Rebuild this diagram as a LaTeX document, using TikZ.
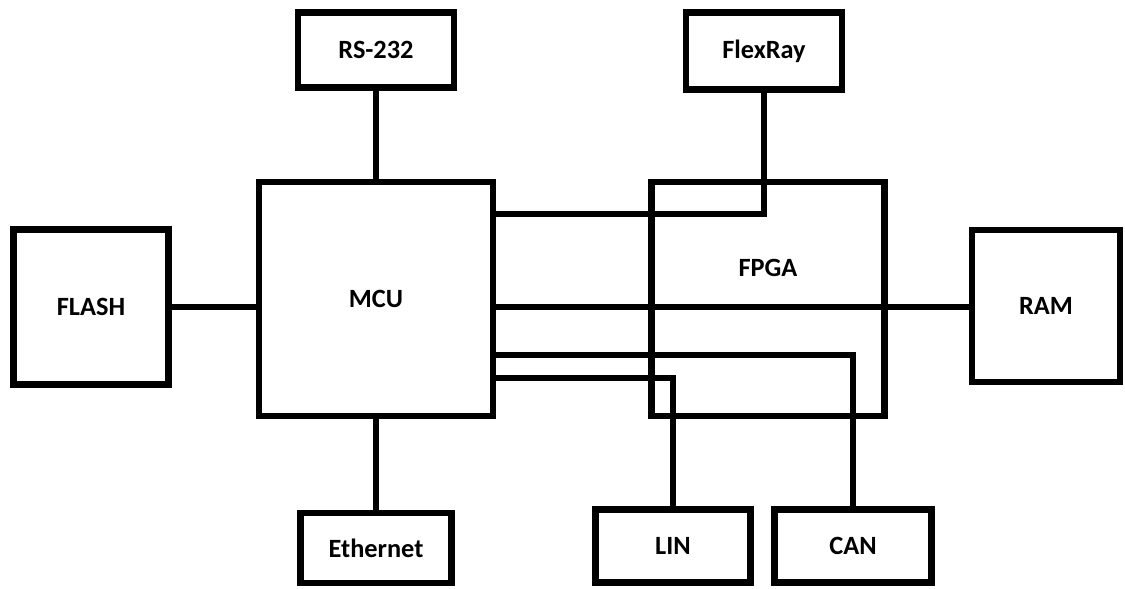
\documentclass[tikz,border=0pt]{standalone}
\usepackage{fontspec}
\setmainfont{Carlito}
\usepackage{tikz}
\usetikzlibrary{positioning}

\begin{document}
\begin{tikzpicture}[
    x=0.02cm, y=-0.02cm,
    box/.style={draw=black, line width=3.6pt, inner sep=0pt, align=center,
      font=\bfseries\fontsize{15}{18}\selectfont},
    port/.style={box, minimum width=3.12cm, minimum height=1.50cm},
    chip/.style={box, minimum width=4.68cm, minimum height=4.68cm},
    mem/.style={box, minimum width=3.10cm, minimum height=3.10cm},
    wire/.style={line width=3.6pt, draw=black}
  ]
    \useasboundingbox (0,0) rectangle (1125,588);

    \node[chip, text depth=-0.12cm] (mcu) at (376,299) {MCU};
    \node[chip, minimum width=4.66cm,
      label={[font=\bfseries\fontsize{15}{18}\selectfont, yshift=0.62cm]center:FPGA}]
      (fpga) at (768,299) {};
    \node[mem] (flash) at (91,307) {FLASH};
    \node[mem, minimum width=2.96cm, minimum height=3.04cm] (ram) at (1046,306) {RAM};

    \node[port] (rs) at (376,50) {RS-232};
    \node[port, minimum height=1.54cm] (flexray) at (764,51) {FlexRay};
    \node[port, minimum width=3.02cm, minimum height=1.40cm] (eth) at (376,548) {Ethernet};
    \node[port, minimum width=3.10cm, minimum height=1.46cm] (lin) at (673,546) {LIN};
    \node[port, minimum width=3.14cm, minimum height=1.46cm] (can) at (853,546) {CAN};

    \draw[wire] (rs) -- (mcu);
    \draw[wire] (mcu) -- (eth);
    \draw[wire] (flash) -- (mcu.west |- flash);
    \draw[wire] (mcu.east |- flash) -- (ram.west |- flash);
    \draw[wire] (flexray.south) |- ([yshift=1.70cm]mcu.east);
    \draw[wire] ([yshift=-1.12cm]mcu.east) -| (can.north);
    \draw[wire] ([yshift=-1.58cm]mcu.east) -| (lin.north);
  \end{tikzpicture}
\end{document}
